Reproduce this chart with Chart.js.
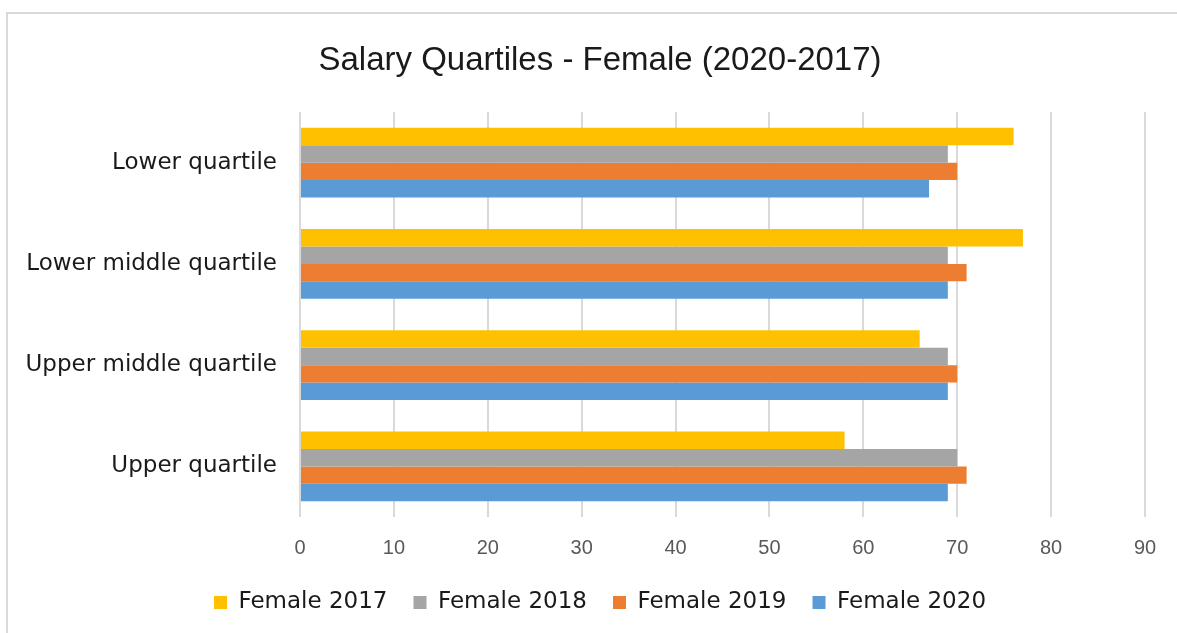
<!DOCTYPE html>
<html>
<head>
<meta charset="utf-8">
<script src="https://cdn.jsdelivr.net/npm/chart.js@4/dist/chart.umd.min.js"></script>
<style>
  html, body { margin: 0; padding: 0; background: #fff; }
  #wrap { width: 1177px; height: 633px; position: relative; }
</style>
</head>
<body>
<div id="wrap"><canvas id="c" width="1177" height="633"></canvas></div>
<script>
const categories = ['Lower quartile', 'Lower middle quartile', 'Upper middle quartile', 'Upper quartile'];
const female2017 = [76, 77, 66, 58];
const female2018 = [69, 69, 69, 70];
const female2019 = [70, 71, 70, 71];
const female2020 = [67, 69, 69, 69];
const xTicks = [0, 10, 20, 30, 40, 50, 60, 70, 80, 90];
const seriesNames = ['Female 2017', 'Female 2018', 'Female 2019', 'Female 2020'];
const colors = ['#FFC000', '#A5A5A5', '#ED7D31', '#5B9BD5'];

const frame = {
  id: 'frame',
  afterLayout(chart) {
    // let the category labels extend left of the axis box without clipping
    chart.scales.y.left = 0;
  },
  beforeDraw(chart) {
    const ctx = chart.ctx;
    ctx.save();
    ctx.strokeStyle = '#d9d9d9';
    ctx.lineWidth = 2;
    ctx.beginPath();
    ctx.moveTo(7, 634);
    ctx.lineTo(7, 13);
    ctx.lineTo(1178, 13);
    ctx.stroke();
    ctx.restore();
  }
};

const seriesValues = [female2017, female2018, female2019, female2020];

new Chart(document.getElementById('c'), {
  type: 'bar',
  data: {
    labels: categories,
    datasets: seriesNames.map((name, i) => ({
      label: name,
      data: seriesValues[i],
      backgroundColor: colors[i],
      borderWidth: 0,
      categoryPercentage: 0.69,
      barPercentage: 1.0
    }))
  },
  options: {
    indexAxis: 'y',
    responsive: false,
    animation: false,
    events: [],
    layout: { padding: { top: 12, left: 55, right: 32, bottom: 9 } },
    plugins: {
      title: {
        display: true,
        text: 'Salary Quartiles - Female (2020-2017)',
        color: '#1a1a1a',
        font: { family: 'Liberation Sans', size: 33, weight: 'normal', lineHeight: 1.2 },
        padding: { top: 29, bottom: 31.4 }
      },
      legend: {
        position: 'bottom',
        labels: {
          color: '#1a1a1a',
          font: { family: 'DejaVu Sans', size: 23 },
          boxWidth: 13,
          boxHeight: 13,
          padding: 26
        }
      },
      tooltip: { enabled: false }
    },
    scales: {
      x: {
        min: 0,
        max: 90,
        afterBuildTicks(scale) { scale.ticks = xTicks.map(v => ({ value: v })); },
        afterFit(scale) { scale.height = 48; },
        grid: { color: '#d9d9d9', lineWidth: 2, drawTicks: false },
        border: { display: false },
        ticks: {
          color: '#595959',
          font: { family: 'Liberation Sans', size: 20 },
          padding: 19,
          maxRotation: 0
        }
      },
      y: {
        afterFit(scale) { scale.width = 245; },
        grid: { display: false, drawTicks: false },
        border: { display: false },
        ticks: {
          color: '#1a1a1a',
          font: { family: 'DejaVu Sans', size: 23 },
          padding: 23
        }
      }
    }
  },
  plugins: [frame]
});
</script>
</body>
</html>
